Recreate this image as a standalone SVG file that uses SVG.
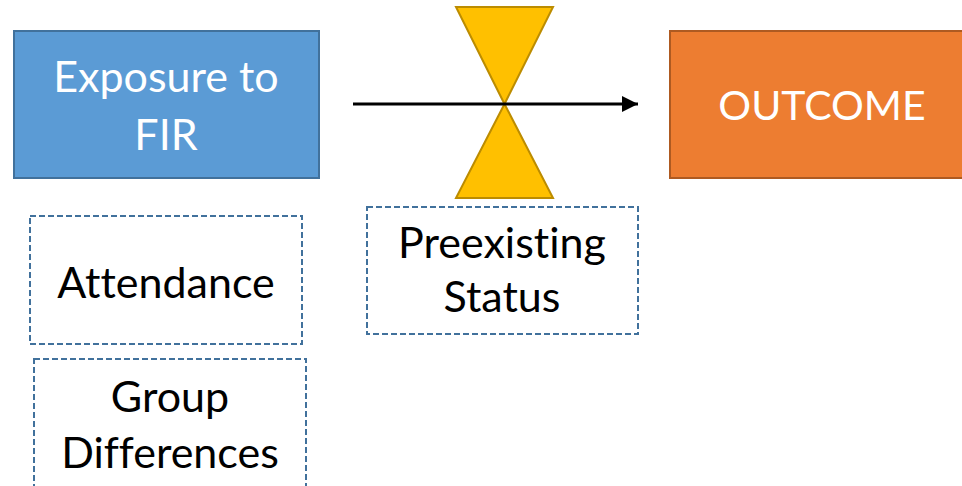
<svg xmlns="http://www.w3.org/2000/svg" width="962" height="486" viewBox="0 0 962 486">
<defs>
<style>
text{font-family:Lato,"Open Sans","Liberation Sans",sans-serif;font-size:43px;text-anchor:middle;font-variant-ligatures:none;font-feature-settings:"liga" 0}
.w{fill:#FFFFFF}
.k{fill:#000000}
.dash{fill:#FFFFFF;stroke:#41719C;stroke-width:2;stroke-dasharray:6 3}
</style>
<marker id="ah" viewBox="0 0 10 10" refX="10" refY="5" markerWidth="5.5" markerHeight="5.5" orient="auto" markerUnits="strokeWidth">
<path d="M0,0 L10,5 L0,10 z" fill="#000"/>
</marker>
</defs>
<rect width="962" height="486" fill="#FFFFFF"/>
<g id="exposure">
<rect x="14" y="31" width="305" height="147" fill="#5B9BD5" stroke="#41719C" stroke-width="2"/>
<text class="w" x="166" y="92">Exposure to</text>
<text class="w" x="166" y="150">FIR</text>
</g>
<g id="outcome">
<rect x="670" y="31" width="305" height="147" fill="#ED7D31" stroke="#AE5A21" stroke-width="2"/>
<text class="w" x="822" y="120" style="font-size:41px">OUTCOME</text>
</g>
<g id="attendance">
<rect class="dash" x="30" y="216" width="272" height="128"/>
<text class="k" x="166" y="298">Attendance</text>
</g>
<g id="group">
<rect class="dash" x="34" y="359" width="272" height="140"/>
<text class="k" x="170" y="412">Group</text>
<text class="k" x="170" y="468">Differences</text>
</g>
<g id="preexisting">
<rect class="dash" x="367" y="207" width="271" height="127"/>
<text class="k" x="502" y="258">Preexisting</text>
<text class="k" x="502" y="312">Status</text>
</g>
<g id="moderator">
<polygon points="456,7 553,7 504.5,104 456,198 553,198 504.5,104" fill="#FFC000" stroke="#BC8C00" stroke-width="2" stroke-linejoin="miter"/>
</g>
<g id="connectors">
<line x1="353" y1="104" x2="638" y2="104" stroke="#000" stroke-width="3" marker-end="url(#ah)"/>
</g>
</svg>
